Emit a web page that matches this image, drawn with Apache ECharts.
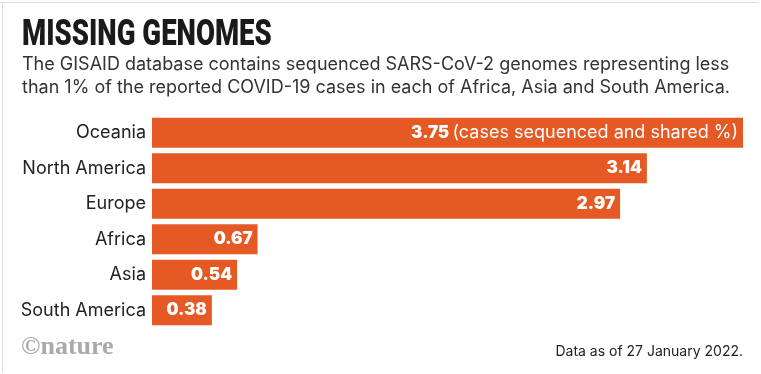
<!DOCTYPE html>
<html>
<head>
<meta charset="utf-8">
<script src="https://cdn.jsdelivr.net/npm/echarts@6/dist/echarts.min.js"></script>
<style>
html,body{margin:0;padding:0;background:#fff;}
#c{width:761px;height:374px;}
</style>
</head>
<body>
<div id="c"></div>
<script>
const categories = ['Oceania', 'North America', 'Europe', 'Africa', 'Asia', 'South America'];
const values = [3.75, 3.14, 2.97, 0.67, 0.54, 0.38];
const unitNote = '(cases sequenced and shared %)';
const titleText = 'MISSING GENOMES';
const subtitleLines = [
  'The GISAID database contains sequenced SARS-CoV-2 genomes representing less',
  'than 1% of the reported COVID-19 cases in each of Africa, Asia and South America.'
];
const sourceText = 'Data as of 27 January 2022.';
const brandText = '©nature';

const chart = echarts.init(document.getElementById('c'), null, {renderer: 'canvas'});
const ORANGE = '#e55a24';
const FONT = 'Inter';
chart.setOption({
  backgroundColor: '#fff',
  animation: false,
  grid: {left: 152, right: 18, top: 115, height: 213, containLabel: false},
  xAxis: {type: 'value', min: 0, max: 3.75, show: false},
  yAxis: {
    type: 'category', data: categories, inverse: true,
    axisLine: {show: false}, axisTick: {show: false}, splitLine: {show: false},
    axisLabel: {margin: 6, fontSize: 18, color: '#222', fontFamily: FONT}
  },
  series: [{
    type: 'bar',
    data: values,
    barWidth: 30,
    itemStyle: {color: ORANGE},
    label: {
      show: true, position: 'insideRight', distance: 5,
      formatter: p => p.dataIndex === 0 ? '{b|' + p.value.toFixed(2) + '} {n|' + unitNote + '}' : '{b|' + p.value.toFixed(2) + '}',
      rich: {
        b: {fontSize: 17, fontWeight: 900, color: '#fff', fontFamily: FONT},
        n: {fontSize: 18, color: '#fff', fontFamily: FONT}
      }
    }
  }],
  graphic: [
    {type: 'line', shape: {x1: 0, y1: 2.5, x2: 758, y2: 2.5}, style: {stroke: '#ddd', lineWidth: 1}},
    {type: 'line', shape: {x1: 2.5, y1: 2, x2: 2.5, y2: 372}, style: {stroke: '#ddd', lineWidth: 1}},
    {type: 'text', x: 22, y: 36, scaleX: 0.745, style: {text: titleText, fontSize: 37, fontWeight: 900, fontFamily: 'Roboto', fill: '#1a1a1a', verticalAlign: 'middle'}},
    {type: 'text', x: 22, y: 65, style: {text: subtitleLines[0], fontSize: 18, fontFamily: FONT, fill: '#333', verticalAlign: 'middle'}},
    {type: 'text', x: 22, y: 88, style: {text: subtitleLines[1], fontSize: 18, fontFamily: FONT, fill: '#333', verticalAlign: 'middle'}},
    {type: 'text', x: 21, y: 347, style: {text: brandText, fontSize: 26, fontWeight: 'bold', fontFamily: 'Liberation Serif', fill: '#aaa', verticalAlign: 'middle'}},
    {type: 'text', x: 743, y: 352, style: {text: sourceText, fontSize: 14, fontFamily: FONT, fill: '#222', align: 'right', verticalAlign: 'middle'}}
  ]
});
</script>
</body>
</html>
